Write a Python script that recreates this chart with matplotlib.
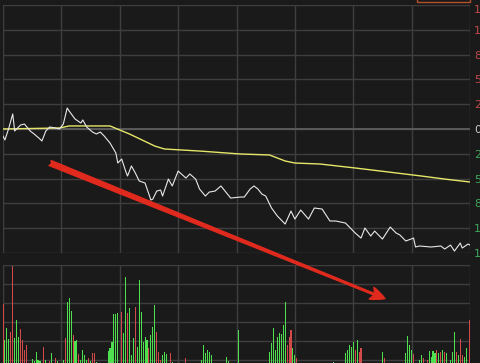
import matplotlib
matplotlib.use("Agg")
from matplotlib import pyplot as plt
from matplotlib.patches import Rectangle

# intraday minutes (0..240) and % change vs previous close
price_min = [0, 1, 3, 5, 6, 8, 9, 11, 14, 16, 19, 20, 22, 24, 27, 29, 31, 33, 34, 37,
             40, 41, 43, 46, 48, 50, 52, 55, 58, 59, 61, 63, 64, 66, 68, 70, 73, 76, 77, 79,
             81, 82, 85, 87, 90, 94, 96, 99, 101, 104, 106, 109, 112, 117, 122, 124, 127, 129, 131, 133,
             135, 138, 141, 145, 148, 150, 153, 157, 160, 164, 168, 171, 176, 181, 184, 186, 189, 191, 195, 199,
             202, 204, 207, 211, 212, 214, 220, 225, 227, 230, 232, 235, 236, 239, 240]
price_pct = [-0.76, -1.19, 0.11, 1.63, -0.22, 0.22, 0.43, 0.54, -0.22, -0.54, -1.09, -1.30, -0.22, 0.22, 0.11, 0.0, 0.54, 2.28, 1.95, 1.09,
             0.65, 0.98, 0.22, -0.33, -0.54, -0.33, -0.76, -1.52, -2.60, -3.69, -3.26, -4.56, -5.10, -4.01, -4.77, -5.64, -5.86, -7.70, -7.60, -6.73,
             -6.62, -7.27, -5.43, -6.18, -4.56, -5.32, -4.88, -5.43, -6.51, -7.27, -6.84, -6.73, -6.18, -7.49, -7.38, -7.38, -6.51, -6.18, -6.51, -7.05,
             -7.27, -8.57, -9.44, -10.31, -8.90, -9.77, -8.79, -9.77, -8.57, -8.68, -9.98, -9.98, -10.20, -11.28, -11.83, -10.74, -11.61, -11.07, -11.94, -10.63,
             -11.28, -11.50, -12.15, -11.83, -12.80, -12.69, -12.80, -12.69, -13.02, -12.59, -13.24, -12.37, -12.91, -12.48, -12.59]

avg_min = [0, 29, 34, 55, 65, 78, 83, 101, 122, 137, 145, 150, 163, 181, 194, 215, 227, 240]
avg_pct = [0.0, 0.11, 0.33, 0.33, -0.54, -1.85, -2.17, -2.39, -2.71, -2.82, -3.47, -3.69, -3.80, -4.23, -4.56, -5.10, -5.43, -5.75]

vol_min = [0, 1, 2, 3, 4, 5, 6, 7, 8, 9, 10, 11, 12, 15, 16, 17, 18, 19, 21, 22, 24, 25, 27, 28,
           31, 32, 33, 34, 35, 36, 37, 38, 39, 40, 41, 42, 43, 44, 45, 46, 47, 48,
           54, 55, 56, 57, 58, 59, 61, 62, 63, 64, 65, 66, 67, 68, 69, 70, 71, 72, 73, 74, 75,
           76, 77, 78, 79, 80, 81, 82, 83, 84, 86, 87, 94, 102, 103, 104, 105, 106, 107, 115, 116, 121,
           137, 138, 139, 140, 141, 142, 143, 144, 145, 146, 147, 148, 149, 150, 151, 170,
           176, 177, 178, 179, 180, 181, 182, 183, 184, 195, 196, 207, 208, 209, 210, 211,
           214, 215, 216, 218, 219, 220, 221, 222, 223, 224, 225, 226, 227, 228, 230, 231, 232,
           233, 234, 235, 236, 237, 238, 240]
vol_val = [375, 195, 255, 200, 235, 565, 205, 295, 210, 250, 195, 145, 170, 100, 90, 135, 95, 90, 160, 95, 90, 130, 105, 90,
           95, 205, 385, 405, 340, 220, 190, 195, 125, 95, 145, 120, 95, 105, 90, 130, 130, 85,
           140, 155, 185, 325, 325, 330, 335, 230, 510, 330, 355, 120, 205, 360, 160, 495, 335, 185, 210, 195, 155,
           220, 260, 370, 235, 135, 95, 120, 135, 125, 130, 85, 105, 95, 170, 130, 145, 135, 120, 110, 90, 245,
           135, 180, 255, 145, 210, 230, 225, 270, 385, 170, 210, 245, 155, 120, 105, 85,
           130, 145, 170, 160, 185, 145, 195, 135, 155, 135, 105, 130, 215, 170, 145, 125,
           95, 120, 105, 95, 140, 110, 140, 130, 145, 130, 135, 145, 135, 130, 95, 135, 235,
           135, 120, 200, 120, 110, 155, 295]
# r = up (red), g = down (green), one letter per bar
vol_side = ("rgggrrgggrrrrgggggrgrgrg"
            "grgggrggrggggrgrrg"
            "ggggggrggrgggrggggggr"
            "gggrrrgggrgrggggggggg"
            "gggggggggrrrggrg"
            "gggggrgrrgrggggr"
            "ggrrggggrgrgrgggg"
            "rgrrggr")

right_labels = ["1", "1", "8", "5", "2", "0", "2", "5", "8", "1", "1"]
step = 2.69

W, H = 480, 363
BG = "#1a1a1a"
GRID = "#3e3e3e"

fig = plt.figure(figsize=(W / 100, H / 100), dpi=100, facecolor=BG)

left, right = 3 / W, 470 / W
axv = fig.add_axes([left, -16 / H, right - left, 114 / H], facecolor=BG)
ax = fig.add_axes([left, 1 - 253 / H, right - left, 248 / H], facecolor=BG)
ax.set_zorder(3)

for a in (ax, axv):
    for s in a.spines.values():
        s.set_visible(False)
    a.set_xlim(0, 240)
    a.set_xticks(range(0, 241, 30))
    a.tick_params(axis="x", length=0, labelbottom=False)
    a.grid(True, color=GRID, linewidth=1)
    a.set_axisbelow(True)

# price panel
ax.set_ylim(-5 * step, 5 * step)
ticks = [step * k for k in range(5, -6, -1)]
ax.set_yticks(ticks)
ax.yaxis.tick_right()
ax.set_yticklabels(right_labels, fontsize=8)
ax.tick_params(axis="y", length=0, pad=3)
for i, t in enumerate(ax.get_yticklabels()):
    if i < 5:
        t.set_color("#c04a4a")
    elif i == 5:
        t.set_color("#c8c8c8")
    else:
        t.set_color("#3fa85a")
ax.get_yticklabels()[0].set_verticalalignment("top")
ax.axhline(0, color="#5a5a5a", linewidth=1.4, zorder=1)

ax.plot(avg_min, avg_pct, color="#e6e66a", linewidth=1.0, zorder=3)
ax.plot(price_min, price_pct, color="#e8e8e8", linewidth=0.8, zorder=4)

# volume panel
axv.set_ylim(0, 570)
axv.set_yticks([95, 190, 285, 380, 475, 570])
axv.tick_params(axis="y", length=0, labelleft=False)
cols = ["#d24a4a" if c == "r" else "#4ee04e" for c in vol_side]
axv.bar(vol_min, vol_val, width=0.55, color=cols, linewidth=0, antialiased=False, zorder=3)

# red trend arrow, runs down into the volume panel
ax.annotate("", xy=(196.3, -18.4), xytext=(24.2, -3.69),
            arrowprops=dict(arrowstyle="fancy,head_length=0.8,head_width=0.7,tail_width=0.3",
                            color="#e02a1e", mutation_scale=13, shrinkA=0, shrinkB=0),
            annotation_clip=False, zorder=10)

# partial box at the top right corner
fig.patches.append(Rectangle((417 / W, 1 - 2 / H), 53 / W, 0.05, transform=fig.transFigure,
                             fill=False, edgecolor="#b4502e", linewidth=1))

fig.savefig("out.png", dpi=100, facecolor=BG)
